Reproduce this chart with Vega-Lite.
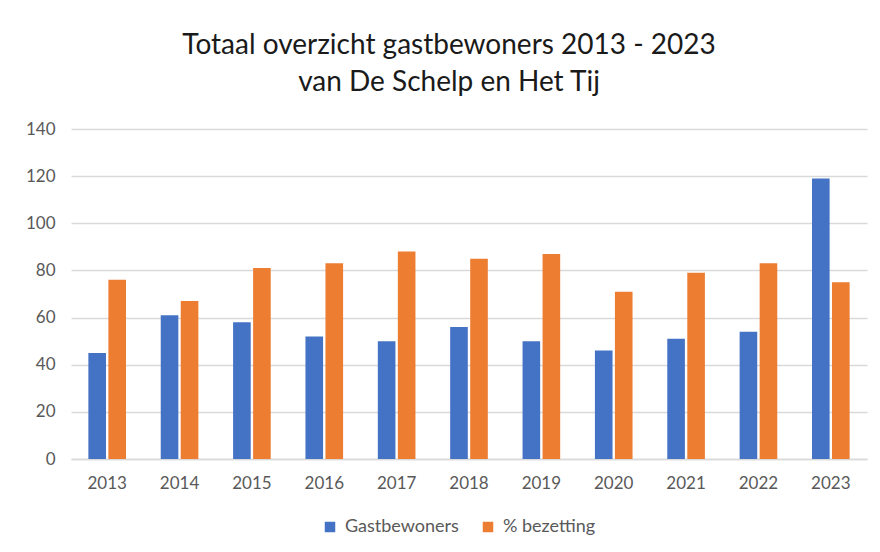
{
  "$schema": "https://vega.github.io/schema/vega-lite/v6.json",
  "width": 796,
  "height": 330,
  "autosize": {"type": "none"},
  "padding": {"left": 71, "top": 129, "right": 13, "bottom": 93},
  "background": "white",
  "title": {
    "text": ["Totaal overzicht gastbewoners 2013 - 2023", "van De Schelp en Het Tij"],
    "font": "Lato",
    "fontSize": 28,
    "fontWeight": "normal",
    "color": "#1a1a1a",
    "lineHeight": 37,
    "anchor": "middle",
    "dx": -20,
    "offset": 23
  },
  "data": {
    "values": [
      {"jaar": "2013", "reeks": "Gastbewoners", "waarde": 45},
      {"jaar": "2013", "reeks": "% bezetting", "waarde": 76},
      {"jaar": "2014", "reeks": "Gastbewoners", "waarde": 61},
      {"jaar": "2014", "reeks": "% bezetting", "waarde": 67},
      {"jaar": "2015", "reeks": "Gastbewoners", "waarde": 58},
      {"jaar": "2015", "reeks": "% bezetting", "waarde": 81},
      {"jaar": "2016", "reeks": "Gastbewoners", "waarde": 52},
      {"jaar": "2016", "reeks": "% bezetting", "waarde": 83},
      {"jaar": "2017", "reeks": "Gastbewoners", "waarde": 50},
      {"jaar": "2017", "reeks": "% bezetting", "waarde": 88},
      {"jaar": "2018", "reeks": "Gastbewoners", "waarde": 56},
      {"jaar": "2018", "reeks": "% bezetting", "waarde": 85},
      {"jaar": "2019", "reeks": "Gastbewoners", "waarde": 50},
      {"jaar": "2019", "reeks": "% bezetting", "waarde": 87},
      {"jaar": "2020", "reeks": "Gastbewoners", "waarde": 46},
      {"jaar": "2020", "reeks": "% bezetting", "waarde": 71},
      {"jaar": "2021", "reeks": "Gastbewoners", "waarde": 51},
      {"jaar": "2021", "reeks": "% bezetting", "waarde": 79},
      {"jaar": "2022", "reeks": "Gastbewoners", "waarde": 54},
      {"jaar": "2022", "reeks": "% bezetting", "waarde": 83},
      {"jaar": "2023", "reeks": "Gastbewoners", "waarde": 119},
      {"jaar": "2023", "reeks": "% bezetting", "waarde": 75}
    ]
  },
  "mark": {"type": "bar"},
  "encoding": {
    "x": {
      "field": "jaar",
      "type": "nominal",
      "scale": {"paddingInner": 0.48, "paddingOuter": 0.24},
      "axis": {
        "title": null,
        "labelAngle": 0,
        "labelFont": "Lato",
        "labelFontSize": 17,
        "labelColor": "#595959",
        "labelPadding": 16,
        "ticks": false,
        "domainColor": "#d9d9d9",
        "domainWidth": 1.5
      }
    },
    "xOffset": {
      "field": "reeks",
      "type": "nominal",
      "sort": ["Gastbewoners", "% bezetting"],
      "scale": {"paddingInner": 0.12}
    },
    "y": {
      "field": "waarde",
      "type": "quantitative",
      "scale": {"domain": [0, 140]},
      "axis": {
        "title": null,
        "values": [0, 20, 40, 60, 80, 100, 120, 140],
        "labelFont": "Lato",
        "labelFontSize": 17,
        "labelColor": "#595959",
        "labelPadding": 16,
        "ticks": false,
        "domain": false,
        "gridColor": "#d9d9d9",
        "gridWidth": 1.5
      }
    },
    "color": {
      "field": "reeks",
      "type": "nominal",
      "sort": ["Gastbewoners", "% bezetting"],
      "scale": {"domain": ["Gastbewoners", "% bezetting"], "range": ["#4472C4", "#ED7D31"]},
      "legend": {
        "title": null,
        "orient": "none",
        "legendX": 250,
        "legendY": 389,
        "direction": "horizontal",
        "symbolType": "square",
        "symbolSize": 110,
        "symbolStrokeWidth": 0,
        "labelFont": "Lato",
        "labelFontSize": 18,
        "labelColor": "#595959",
        "labelOffset": 6,
        "columnPadding": 20
      }
    }
  },
  "config": {"view": {"stroke": null}}
}
